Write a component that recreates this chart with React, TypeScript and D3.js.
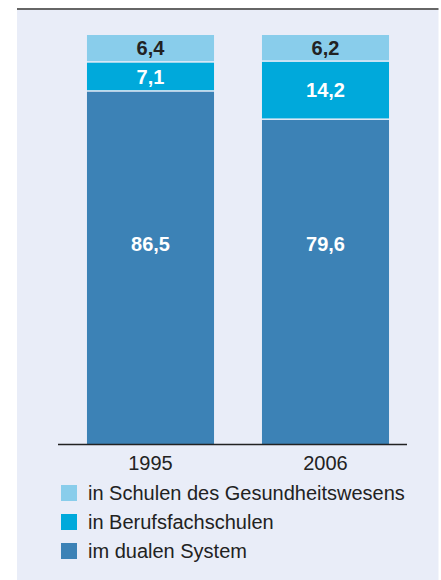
import React from "react";
import * as d3 from "d3";

const years = ["1995", "2006"];
const dual = [86.5, 79.6];
const berufsfach = [7.1, 14.2];
const gesundheit = [6.4, 6.2];
const seriesNames = ["im dualen System", "in Berufsfachschulen", "in Schulen des Gesundheitswesens"];
const seriesColors = ["#3c82b6", "#00a9db", "#89cdeb"];
const labelColors = ["#ffffff", "#ffffff", "#222222"];

const W = 441;
const H = 580;

export default function App() {
  const seriesValues = [dual, berufsfach, gesundheit];
  const rows = years.map((y, i) => ({
    year: y,
    s0: seriesValues[0][i],
    s1: seriesValues[1][i],
    s2: seriesValues[2][i],
  }));
  const stack = d3.stack<any>().keys(["s0", "s1", "s2"]);
  const stacked = stack(rows);

  const x = d3
    .scaleBand<string>()
    .domain(years)
    .range([63, 413])
    .paddingInner(0.274)
    .paddingOuter(0.137);
  const y = d3.scaleLinear().domain([0, 100]).range([444, 35]);
  const fmt = (v: number) => v.toFixed(1).replace(".", ",");

  const legendOrder = [2, 1, 0];
  const bottomLabelY = 244;

  return (
    <svg
      width={W}
      height={H}
      style={{ position: "absolute", left: 0, top: 0, display: "block" }}
    >
      <rect x={17} y={9} width={421.5} height={H - 9} fill="#e9edf8" />
      <line x1={17} x2={438.5} y1={9} y2={9} stroke="#666666" strokeWidth={2} />
      {stacked.map((layer, si) => (
        <g key={si}>
          {layer.map((d, i) => {
            const top = y(d[1]);
            const bot = y(d[0]);
            const bx = x(years[i]) as number;
            const gapTop = si < 2 ? 1.5 : 0;
            const ly = si === 0 ? bottomLabelY : (top + gapTop + bot) / 2;
            return (
              <g key={i}>
                <rect
                  x={bx}
                  y={top + gapTop}
                  width={x.bandwidth()}
                  height={bot - top - gapTop}
                  fill={seriesColors[si]}
                />
                <text
                  x={bx + x.bandwidth() / 2}
                  y={ly}
                  dy="0.36em"
                  textAnchor="middle"
                  fontFamily="Liberation Sans, Arial, sans-serif"
                  fontWeight="bold"
                  fontSize={20}
                  fill={labelColors[si]}
                >
                  {fmt(seriesValues[si][i])}
                </text>
              </g>
            );
          })}
        </g>
      ))}
      <line x1={58} x2={407} y1={444.5} y2={444.5} stroke="#222222" strokeWidth={1.5} />
      {years.map((yr) => (
        <text
          key={yr}
          x={(x(yr) as number) + x.bandwidth() / 2}
          y={470}
          textAnchor="middle"
          fontFamily="Liberation Sans, Arial, sans-serif"
          fontSize={20}
          fill="#222222"
        >
          {yr}
        </text>
      ))}
      {legendOrder.map((si, k) => (
        <g key={si} transform={`translate(61, ${485 + k * 29})`}>
          <rect x={0} y={0} width={16} height={16} fill={seriesColors[si]} />
          <text
            x={27}
            y={8}
            dy="0.36em"
            fontFamily="Liberation Sans, Arial, sans-serif"
            fontSize={20}
            fill="#222222"
          >
            {seriesNames[si]}
          </text>
        </g>
      ))}
    </svg>
  );
}
